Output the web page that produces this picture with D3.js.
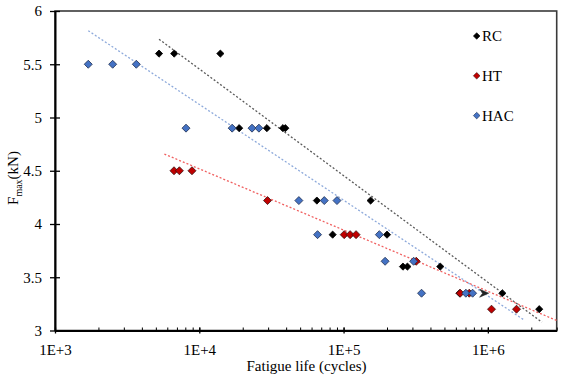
<!DOCTYPE html>
<html><head><meta charset="utf-8">
<script src="https://cdn.jsdelivr.net/npm/d3@7"></script>
<style>body{margin:0;background:#fff}svg{display:block}svg text{font-family:"Liberation Serif",Times,"Times New Roman","Nimbus Roman","Nimbus Roman No9 L",FreeSerif,"DejaVu Serif",Georgia,serif !important;fill:#000}</style>
</head><body><svg id="c" width="566" height="379"></svg>
<script>
// Data (N cycles, Fmax kN)
const seriesNames = ["RC","HT","HAC"];
const rcData = [[5.26e3,5.6],[6.7e3,5.6],[1.4e4,5.6],[1.89e4,4.9],[2.94e4,4.9],[3.8e4,4.9],[3.95e4,4.9],[6.53e4,4.22],[1.54e5,4.22],[8.4e4,3.9],[2.0e5,3.9],[2.58e5,3.6],[2.77e5,3.6],[4.68e5,3.6],[6.36e5,3.35],[1.26e6,3.35],[2.27e6,3.2]];
const rcRunout = [[9.5e5,3.35]];
const htData = [[6.68e3,4.5],[7.28e3,4.5],[8.9e3,4.5],[2.97e4,4.22],[1.01e5,3.9],[1.11e5,3.9],[1.22e5,3.9],[3.19e5,3.65],[6.43e5,3.35],[7.43e5,3.35],[1.06e6,3.2],[1.58e6,3.2]];
const hacData = [[1.70e3,5.5],[2.51e3,5.5],[3.66e3,5.5],[8.09e3,4.9],[1.69e4,4.9],[2.32e4,4.9],[2.59e4,4.9],[4.9e4,4.22],[7.35e4,4.22],[9.0e4,4.22],[6.6e4,3.9],[1.77e5,3.9],[1.94e5,3.65],[3.06e5,3.65],[3.47e5,3.35],[7.04e5,3.35],[7.84e5,3.35]];
// Trendlines (log fits), endpoints
const rcTrend = [[5.26e3,5.735],[2.37e6,3.078]];
const htTrend = [[5.73e3,4.657],[3.0e6,3.094]];
const hacTrend = [[1.70e3,5.815],[1.79e6,3.097]];
const xMajorTicks = [1e3,1e4,1e5,1e6];
const xTickLabels = ["1E+3","1E+4","1E+5","1E+6"];
const yTicks = [3,3.5,4,4.5,5,5.5,6];

const svg = d3.select("#c");
const L=55, R=556.7, T=11, B=330.5;
const x = d3.scaleLog().domain([1e3,3e6]).range([L,R]);
const y = d3.scaleLinear().domain([3,6]).range([B,T]);

// frame
svg.append("rect").attr("x",L).attr("y",T).attr("width",R-L).attr("height",B-T)
  .attr("fill","none").attr("stroke","#3a3a3a").attr("stroke-width",1.6);

// minor ticks
const minor=[];
for(let d=1e3; d<3e6; d*=10){ for(let m=2;m<=9;m++){ if(d*m<=3e6) minor.push(d*m);} }
svg.append("g").attr("transform",`translate(0,${B})`)
  .call(d3.axisBottom(x).tickValues(minor.concat(xMajorTicks)).tickSize(-3).tickFormat(""))
  .call(g=>{g.select(".domain").remove(); g.selectAll("line").attr("stroke","#000").attr("stroke-width",1);});
// major x axis
svg.append("g").attr("transform",`translate(0,${B})`)
  .call(d3.axisBottom(x).tickValues(xMajorTicks).tickSizeInner(3).tickSizeOuter(0).tickPadding(11)
    .tickFormat((d,i)=>xTickLabels[i]))
  .call(g=>{g.attr("font-family",null).attr("font-size",15);
    g.select(".domain").attr("stroke","#000").attr("stroke-width",2);
    g.selectAll("line").attr("stroke","#000").attr("stroke-width",1.3).attr("y1",-3);});
// y axis
svg.append("g").attr("transform",`translate(${L},0)`)
  .call(d3.axisLeft(y).tickValues(yTicks).tickSizeInner(5).tickSizeOuter(0).tickPadding(8).tickFormat(d3.format("")))
  .call(g=>{g.attr("font-family",null).attr("font-size",15);
    g.select(".domain").attr("stroke","#000").attr("stroke-width",2);
    g.selectAll("line").attr("stroke","#000").attr("stroke-width",1.3).attr("x1",5);});

// trendlines
const line = d3.line().x(d=>x(d[0])).y(d=>y(d[1]));
[[rcTrend,"#5a5a5a"],[htTrend,"#f06060"],[hacTrend,"#8eaadb"]].forEach(([t,c])=>{
  svg.append("path").attr("d",line(t)).attr("fill","none").attr("stroke",c)
    .attr("stroke-width",1.3).attr("stroke-dasharray","2,2");
});

// markers
function diamond(g,data,fill,stroke,r){
  g.selectAll(null).data(data).join("path")
   .attr("d",`M0,${-r}L${r},0L0,${r}L${-r},0Z`)
   .attr("transform",d=>`translate(${x(d[0])},${y(d[1])})`)
   .attr("fill",fill).attr("stroke",stroke).attr("stroke-width",0.8);
}
const gp = svg.append("g");
diamond(gp,rcData,"#000","#000",3.6);
gp.selectAll(null).data(rcRunout).join("path")
  .attr("d","M-5,-4L4,0L-5,4L-2,0Z")
  .attr("transform",d=>`translate(${x(d[0])},${y(d[1])})`)
  .attr("fill","#222").attr("stroke","#222").attr("stroke-width",0.6);
diamond(gp,htData,"#c00000","#3a1010",4);
diamond(gp,hacData,"#4472c4","#1f2f4f",4);

// legend
const leg = svg.append("g");
const legCol = ["#000","#c00000","#4472c4"];
const legStroke = ["#000","#3a1010","#1f2f4f"];
seriesNames.forEach((n,i)=>{
  const yy = 36 + i*39.8;
  leg.append("path").attr("d","M0,-3.3L3.3,0L0,3.3L-3.3,0Z").attr("transform",`translate(476.7,${yy})`)
    .attr("fill",legCol[i]).attr("stroke",legStroke[i]).attr("stroke-width",0.6);
  leg.append("text").attr("x",482).attr("y",yy).attr("dy","0.35em").attr("font-size",15).text(n);
});

// axis titles
svg.append("text").attr("x",306.5).attr("y",371).attr("text-anchor","middle").attr("font-size",15)
  .text("Fatigue life (cycles)");
const yl = svg.append("text").attr("transform","translate(18,178) rotate(-90)").attr("text-anchor","middle").attr("font-size",15);
yl.append("tspan").text("F");
yl.append("tspan").attr("font-size",10).attr("dy",4).text("max");
yl.append("tspan").attr("dy",-4).text("(kN)");
</script></body></html>
